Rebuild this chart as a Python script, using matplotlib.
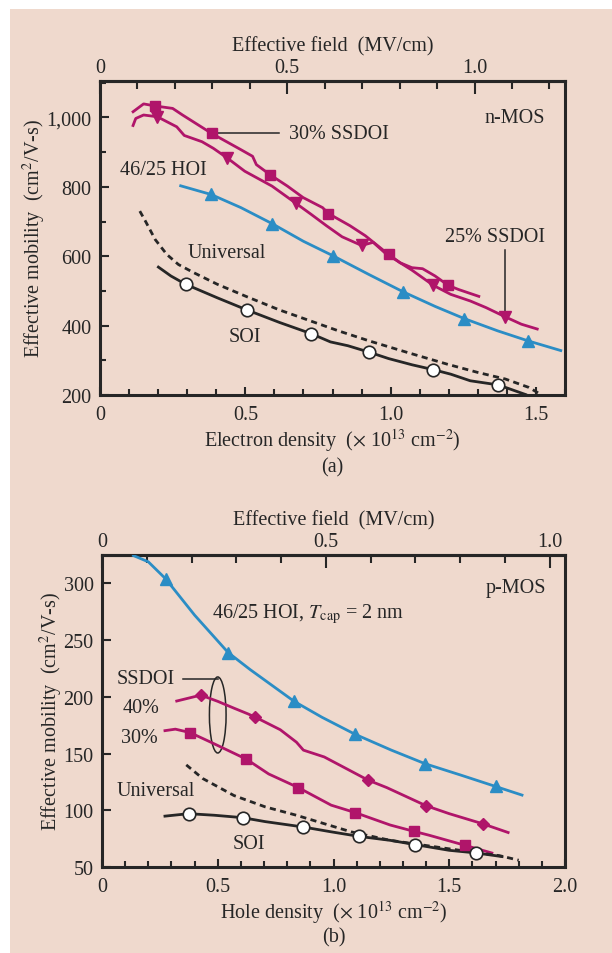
import matplotlib.pyplot as plt
from matplotlib.patches import Ellipse, Rectangle
from matplotlib.ticker import MultipleLocator, FixedLocator, FuncFormatter

plt.rcParams['font.family'] = ['Liberation Serif', 'DejaVu Serif']
plt.rcParams['mathtext.fontset'] = 'stix'
plt.rcParams['font.size'] = 14.5

bg = '#efd9cd'
magenta = '#b0156a'
blue = '#2b8dc5'
ink = '#262626'

# ---- n-MOS (electron density, 1e13 cm^-2 ; mobility cm^2/V-s)
n_ss30_x = [0.11, 0.15, 0.19, 0.25, 0.284, 0.384, 0.485, 0.525, 0.538, 0.585, 0.645, 0.699,
            0.766, 0.786, 0.86, 0.913, 0.993, 1.033, 1.073, 1.11, 1.153, 1.198, 1.234, 1.308]
n_ss30_y = [1014, 1039, 1033, 1026, 1007, 954, 907, 888, 864, 835, 802, 769,
            740, 723, 688, 659, 605, 581, 567, 564, 543, 516, 504, 483]
n_ss30_mx = [0.19, 0.384, 0.585, 0.786, 0.993, 1.198]
n_ss30_my = [1033, 954, 835, 723, 605, 516]

n_ss25_x = [0.112, 0.123, 0.15, 0.197, 0.264, 0.29, 0.351, 0.39, 0.438, 0.498, 0.592, 0.675,
            0.726, 0.779, 0.833, 0.90, 0.94, 0.98, 1.033, 1.073, 1.147, 1.207, 1.274, 1.328,
            1.395, 1.45, 1.509]
n_ss25_y = [973, 997, 1007, 1002, 973, 948, 930, 911, 883, 845, 802, 752,
            721, 688, 656, 631, 640, 610, 581, 560, 516, 490, 471, 452,
            425, 404, 389]
n_ss25_mx = [0.197, 0.438, 0.675, 0.90, 1.147, 1.395]
n_ss25_my = [1002, 883, 752, 631, 516, 425]

n_hoi_x = [0.273, 0.382, 0.485, 0.592, 0.70, 0.80, 0.926, 1.044, 1.154, 1.254, 1.368, 1.473, 1.59]
n_hoi_y = [804, 778, 740, 694, 643, 602, 547, 497, 455, 420, 385, 356, 327]
n_hoi_mx = [0.382, 0.592, 0.80, 1.044, 1.254, 1.473]
n_hoi_my = [778, 694, 602, 497, 420, 356]

n_uni_x = [0.137, 0.157, 0.19, 0.23, 0.27, 0.324, 0.404, 0.506, 0.618, 0.726, 0.82, 0.926,
           1.06, 1.194, 1.30, 1.395, 1.475, 1.52]
n_uni_y = [730, 700, 648, 605, 576, 552, 519, 483, 445, 413, 385, 356,
           322, 289, 265, 246, 222, 200]

n_soi_x = [0.197, 0.244, 0.295, 0.404, 0.506, 0.618, 0.726, 0.793, 0.853, 0.924, 0.993,
           1.074, 1.147, 1.207, 1.274, 1.371, 1.469]
n_soi_y = [571, 543, 519, 480, 445, 409, 377, 353, 342, 324, 305,
           287, 273, 260, 241, 229, 200]
n_soi_mx = [0.295, 0.506, 0.726, 0.924, 1.147, 1.371]
n_soi_my = [519, 445, 377, 324, 273, 229]

# ---- p-MOS (hole density)
p_hoi_x = [0.13, 0.20, 0.275, 0.40, 0.545, 0.64, 0.83, 0.95, 1.093, 1.25, 1.396, 1.55, 1.70, 1.82]
p_hoi_y = [325, 319, 304, 272, 239, 224, 196, 182, 167, 153, 141, 131, 121, 113]
p_hoi_mx = [0.275, 0.545, 0.83, 1.093, 1.396, 1.70]
p_hoi_my = [304, 239, 196, 167, 141, 121]

p_ss40_x = [0.317, 0.427, 0.50, 0.57, 0.63, 0.663, 0.77, 0.84, 0.87, 0.96, 1.025, 1.15,
            1.23, 1.40, 1.50, 1.646, 1.76]
p_ss40_y = [196, 201.5, 196, 190, 185, 182, 171, 160, 153, 147, 140, 126.5,
            120, 104, 97, 88, 80]
p_ss40_mx = [0.427, 0.663, 1.15, 1.40, 1.646]
p_ss40_my = [201.5, 182, 126.5, 104, 88]

p_ss30_x = [0.266, 0.317, 0.38, 0.47, 0.624, 0.72, 0.848, 0.99, 1.093, 1.245, 1.346, 1.413,
            1.57, 1.69]
p_ss30_y = [170, 171.5, 168.5, 160, 145, 132, 120, 104.5, 98, 87, 81.5, 78,
            69, 62]
p_ss30_mx = [0.38, 0.624, 0.848, 1.093, 1.346, 1.57]
p_ss30_my = [168.5, 145, 120, 98, 81.5, 69]

p_uni_x = [0.364, 0.435, 0.57, 0.705, 0.84, 1.076, 1.245, 1.50, 1.717, 1.80]
p_uni_y = [140, 128, 113, 103, 95.6, 81, 73.5, 66, 60, 56]

p_soi_x = [0.266, 0.374, 0.486, 0.607, 0.705, 0.868, 0.99, 1.11, 1.245, 1.354, 1.50, 1.616, 1.734]
p_soi_y = [94.7, 97, 95.6, 93.5, 90, 85.3, 81, 77, 73.5, 69.7, 64.7, 62.4, 59]
p_soi_mx = [0.374, 0.607, 0.868, 1.11, 1.354, 1.616]
p_soi_my = [97, 93.5, 85.3, 77, 69.7, 62.4]

# field per unit sheet density (MV/cm per 1e13 cm^-2)
n_field = 0.776
p_field = 0.517

W, H = 612, 954
fig = plt.figure(figsize=(W / 100, H / 100), dpi=100)
fig.patch.set_facecolor('white')
fig.add_artist(Rectangle((10 / W, 0), 1, 1 - 10 / H, transform=fig.transFigure,
                         facecolor=bg, edgecolor='none', zorder=-5))


def fmt(v, p):
    return '0' if v == 0 else f'{v:.1f}'


def make_axes(rect, xmax, ylim, field, xlabel, ymajor, yminor, tag, tag_y):
    ax = fig.add_axes(rect)
    ax.set_facecolor('none')
    ax.set_xlim(0, xmax)
    ax.set_ylim(*ylim)
    for s in ax.spines.values():
        s.set_linewidth(2.2)
        s.set_color(ink)
    ax.xaxis.set_major_locator(MultipleLocator(0.5))
    ax.xaxis.set_minor_locator(MultipleLocator(0.1))
    ax.yaxis.set_major_locator(MultipleLocator(ymajor))
    if yminor:
        ax.yaxis.set_minor_locator(MultipleLocator(yminor))
    ax.xaxis.set_major_formatter(FuncFormatter(fmt))
    ax.yaxis.set_major_formatter(FuncFormatter(lambda v, p: f'{int(v):,}'))
    ax.tick_params(which='both', direction='in', top=False, right=False, colors=ink,
                   labelcolor=ink, width=1.5)
    ax.tick_params(axis='x', which='major', length=6, pad=7)
    ax.tick_params(axis='x', which='minor', length=4.5)
    ax.tick_params(axis='y', which='major', length=6.5, pad=6)
    ax.tick_params(axis='y', which='minor', length=4.5)
    ax.set_xlabel(xlabel, color=ink, labelpad=2)
    ax.set_ylabel('Effective mobility  (cm$^2$/V-s)', color=ink, labelpad=-1)

    fmax = xmax * field
    sec = ax.secondary_xaxis('top', functions=(lambda x: x * field, lambda f: f / field))
    sec.xaxis.set_major_locator(FixedLocator([0, 0.5, 1.0]))
    sec.xaxis.set_minor_locator(FixedLocator([i / 10 for i in range(1, int(fmax * 10) + 1)]))
    sec.xaxis.set_major_formatter(FuncFormatter(fmt))
    sec.tick_params(which='both', direction='in', colors=ink, labelcolor=ink, width=1.5)
    sec.tick_params(which='major', length=9, pad=3)
    sec.tick_params(which='minor', length=6)
    sec.spines['top'].set_linewidth(2.2)
    sec.set_xlabel('Effective field  (MV/cm)', color=ink, labelpad=5)

    fig.text(rect[0] + rect[2] / 2, tag_y, tag, ha='center', va='center', color=ink)
    return ax


def curve(ax, x, y, color, mx=None, my=None, marker=None, ms=7, dashed=False, **mk):
    ls = (0, (2.2, 1.6)) if dashed else '-'
    ax.plot(x, y, color=color, lw=2, ls=ls, solid_capstyle='butt', zorder=3)
    if marker:
        ax.plot(mx, my, ls='none', marker=marker, ms=ms, color=color, zorder=4, **mk)


# (a) n-MOS
ax = make_axes([100 / W, 1 - 396 / H, 465 / W, 314 / H], 1.6, (200, 1105), n_field,
               'Electron density  ($\\times$ 10$^{13}$ cm$^{-2}$)', 200, 100, '(a)', 1 - 468 / H)
curve(ax, n_ss30_x, n_ss30_y, magenta, n_ss30_mx, n_ss30_my, 's', ms=7)
curve(ax, n_ss25_x, n_ss25_y, magenta, n_ss25_mx, n_ss25_my, 'v', ms=8)
curve(ax, n_hoi_x, n_hoi_y, blue, n_hoi_mx, n_hoi_my, '^', ms=8)
curve(ax, n_uni_x, n_uni_y, ink, dashed=True)
curve(ax, n_soi_x, n_soi_y, ink, n_soi_mx, n_soi_my, 'o', ms=9,
      markerfacecolor='white', markeredgecolor=ink, markeredgewidth=1.2)

ax.plot([0.40, 0.615], [954, 954], color=ink, lw=1.1, zorder=2)
ax.text(0.65, 954, '30% SSDOI', va='center', ha='left', color=ink)
ax.text(1.53, 1000, 'n-MOS', va='center', ha='right', color=ink)
ax.text(0.07, 850, '46/25 HOI', va='center', ha='left', color=ink)
ax.text(1.36, 657, '25% SSDOI', va='center', ha='center', color=ink)
ax.plot([1.395, 1.395], [618, 432], color=ink, lw=1.1, zorder=2)
ax.text(0.30, 611, 'Universal', va='center', ha='left', color=ink)
ax.text(0.50, 370, 'SOI', va='center', ha='center', color=ink)

# (b) p-MOS
ax = make_axes([102 / W, 1 - 868 / H, 463 / W, 312 / H], 2.0, (50, 325), p_field,
               'Hole density  ($\\times$ 10$^{13}$ cm$^{-2}$)', 50, None, '(b)', 1 - 938 / H)
curve(ax, p_hoi_x, p_hoi_y, blue, p_hoi_mx, p_hoi_my, '^', ms=8)
curve(ax, p_ss40_x, p_ss40_y, magenta, p_ss40_mx, p_ss40_my, 'D', ms=6.5)
curve(ax, p_ss30_x, p_ss30_y, magenta, p_ss30_mx, p_ss30_my, 's', ms=7)
curve(ax, p_uni_x, p_uni_y, ink, dashed=True)
curve(ax, p_soi_x, p_soi_y, ink, p_soi_mx, p_soi_my, 'o', ms=9,
      markerfacecolor='white', markeredgecolor=ink, markeredgewidth=1.2)

ax.text(1.92, 296, 'p-MOS', va='center', ha='right', color=ink)
ax.text(0.477, 273.5, '46/25 HOI, $T_{\\rm cap}$ = 2 nm', va='center', ha='left', color=ink)
ax.text(0.064, 216, 'SSDOI', va='center', ha='left', color=ink)
ax.plot([0.35, 0.50], [216, 216], color=ink, lw=1.1, zorder=2)
ax.add_patch(Ellipse((0.50, 184), 0.072, 67, facecolor='none', edgecolor=ink, lw=1.1, zorder=2))
ax.text(0.09, 191, '40%', va='center', ha='left', color=ink)
ax.text(0.08, 164, '30%', va='center', ha='left', color=ink)
ax.text(0.064, 117.6, 'Universal', va='center', ha='left', color=ink)
ax.text(0.636, 70.6, 'SOI', va='center', ha='center', color=ink)

fig.savefig('out.png', dpi=100)
